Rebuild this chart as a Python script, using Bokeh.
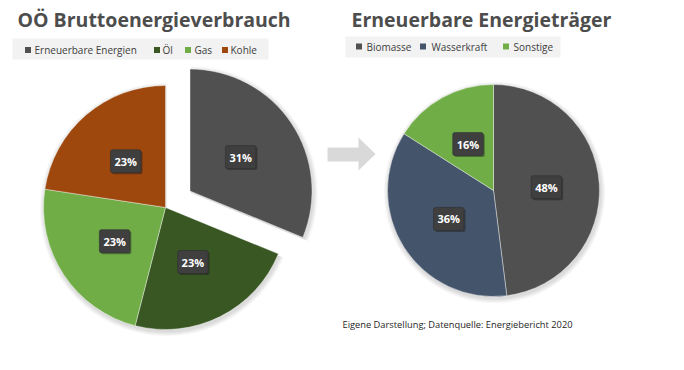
import numpy as np
from bokeh.plotting import figure
from bokeh.models import Range1d, ColumnDataSource
from bokeh.core.properties import value
from bokeh.embed import file_html
from bokeh.resources import INLINE

# ---- data ----
left_title = "OÖ Bruttoenergieverbrauch"
left_categories = ["Erneuerbare Energien", "Öl", "Gas", "Kohle"]
left_values = [31.2, 22.8, 23.4, 22.6]
left_colors = ["#505050", "#385723", "#70ad47", "#9e480e"]

right_title = "Erneuerbare Energieträger"
right_categories = ["Biomasse", "Wasserkraft", "Sonstige"]
right_values = [48, 36, 16]
right_colors = ["#505050", "#44546a", "#70ad47"]

source_note = "Eigene Darstellung; Datenquelle: Energiebericht 2020"

FONT = "Open Sans"
W, H = 668, 354


def Y(y):
    return 370 - y


p = figure(width=W, height=H, output_backend="svg", toolbar_location=None,
           x_range=Range1d(0, W), y_range=Range1d(370 - H, 370),
           min_border=0, background_fill_color="white", border_fill_color="white")
p.axis.visible = False
p.grid.visible = False
p.outline_line_color = None


def pie(cx, cy, r, values, colors, explode_first=0.0):
    vals = np.array(values, dtype=float)
    frac = vals / vals.sum()
    cw_end = np.cumsum(frac) * 2 * np.pi
    cw_start = cw_end - frac * 2 * np.pi
    mid = (cw_start + cw_end) / 2
    xs, ys = [], []
    for i in range(len(vals)):
        off = explode_first if i == 0 else 0.0
        xs.append(cx + off * np.sin(mid[i]))
        ys.append(Y(cy) + off * np.cos(mid[i]))
    lx = [xs[i] + 0.5 * r * np.sin(mid[i]) for i in range(len(vals))]
    ly = [ys[i] + 0.5 * r * np.cos(mid[i]) for i in range(len(vals))]
    src = ColumnDataSource(dict(
        x=xs, y=ys,
        sx=[x + 1 for x in xs], sy=[y - 2 for y in ys],
        start=list(np.pi / 2 - cw_end), end=list(np.pi / 2 - cw_start),
        color=colors,
        lx=lx, ly=ly,
        lsx=[v + 1.5 for v in lx], lsy=[v - 1.5 for v in ly],
        label=[f"{round(f * 100):.0f}%" for f in frac],
    ))
    # soft shadow
    for k in range(1, 7):
        p.wedge(x="sx", y="sy", radius=r + k * 0.8, start_angle="start", end_angle="end",
                source=src, fill_color="black", fill_alpha=0.022, line_color=None)
    p.wedge(x="x", y="y", radius=r, start_angle="start", end_angle="end",
            source=src, fill_color="color", line_color="white", line_width=0.4)
    # label shadow
    p.text(x="lsx", y="lsy", text="label", source=src, text_color="#1e1e1e",
           text_font=value(FONT), text_font_style="bold", text_font_size="11px",
           text_align="center", text_baseline="middle",
           background_fill_color="#1e1e1e", background_fill_alpha=0.45, text_alpha=0.0,
           padding=(4, 4), border_radius=2)
    p.text(x="lx", y="ly", text="label", source=src, text_color="white",
           text_font=value(FONT), text_font_style="bold", text_font_size="11px",
           text_align="center", text_baseline="middle",
           background_fill_color="#3f3f3f", padding=(4, 4), border_radius=2,
           border_line_color="#2a2a2a", border_line_width=0.5)


pie(165, 207, 122, left_values, left_colors, explode_first=29.5)
pie(493, 190, 106, right_values, right_colors)

# titles
p.text(x=[17], y=[Y(19)], text=[left_title], text_font=value(FONT), text_font_style="bold",
       text_font_size="19.5px", text_color="#4d4d4d", text_baseline="middle")
p.text(x=[351], y=[Y(19)], text=[right_title], text_font=value(FONT), text_font_style="bold",
       text_font_size="19.5px", text_color="#4d4d4d", text_baseline="middle")

# legends
p.quad(left=[12], right=[268], top=[Y(38)], bottom=[Y(59)], fill_color="#f2f2f2", line_color=None)
p.quad(left=[345], right=[560], top=[Y(36)], bottom=[Y(57)], fill_color="#f2f2f2", line_color=None)


def legend(cats, colors, xs, tx, yc):
    p.scatter(x=[x + 2.5 for x in xs], y=[Y(yc)] * len(xs), marker="square", size=6,
              fill_color=colors, line_color=None)
    p.text(x=tx, y=[Y(yc)] * len(xs), text=cats, text_font=value(FONT),
           text_font_size="10px", text_color="#404040", text_baseline="middle")


legend(left_categories, left_colors, [25, 154, 185, 222], [34, 162, 194, 230], 49.5)
legend(right_categories, right_colors, [356, 420, 503], [366, 431, 513], 46)

# arrow
ax = [327, 358, 358, 375, 358, 358, 327]
ay = [147, 147, 137, 153.5, 170, 161, 161]
p.patch(x=ax, y=[Y(v) for v in ay], fill_color="#d9d9d9", line_color=None)

# source note
p.text(x=[342], y=[Y(324)], text=[source_note], text_font=value(FONT),
       text_font_size="9.3px", text_color="#262626", text_baseline="middle")

open("out.html", "w").write(file_html(p, INLINE))
